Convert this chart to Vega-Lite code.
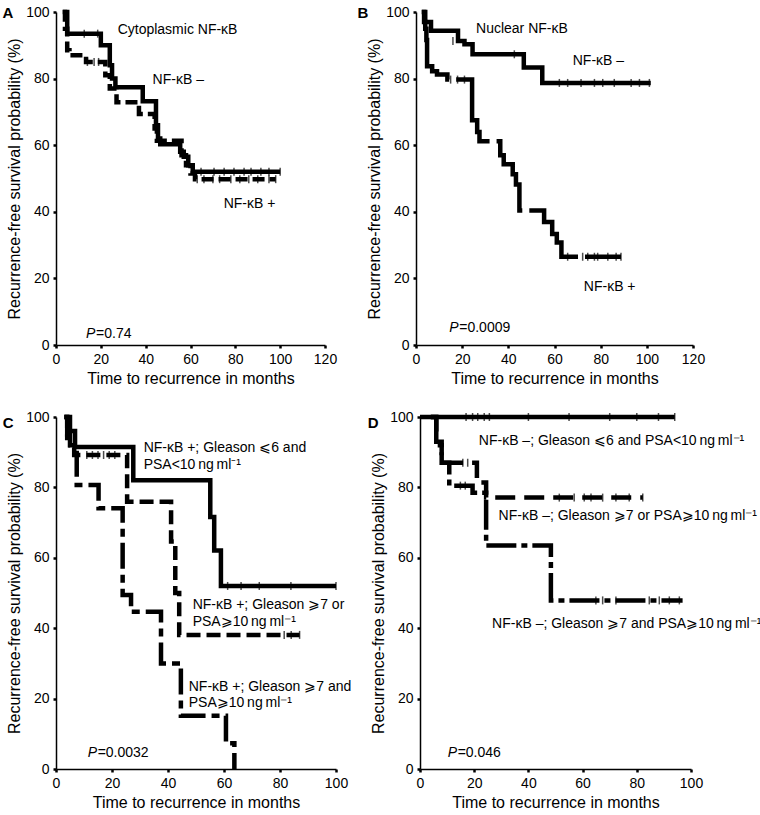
{
  "$schema": "https://vega.github.io/schema/vega-lite/v6.json",
  "padding": {"left": 2, "top": 3, "right": 0, "bottom": 0},
  "background": "white",
  "datasets": {
    "km": [
      {"p":"A","g":"neg","t":3,"s":100},{"p":"A","g":"neg","t":5,"s":93.5},{"p":"A","g":"neg","t":20,"s":90},{"p":"A","g":"neg","t":24,"s":84},{"p":"A","g":"neg","t":25,"s":80},{"p":"A","g":"neg","t":26.5,"s":77.4},{"p":"A","g":"neg","t":38.7,"s":73.2},{"p":"A","g":"neg","t":44.6,"s":66},{"p":"A","g":"neg","t":45.5,"s":62},{"p":"A","g":"neg","t":46.5,"s":60.3},{"p":"A","g":"neg","t":55.4,"s":58},{"p":"A","g":"neg","t":57,"s":56.5},{"p":"A","g":"neg","t":59,"s":54},{"p":"A","g":"neg","t":61,"s":52},{"p":"A","g":"neg","t":100,"s":52},
      {"p":"A","g":"pos","t":3,"s":100},{"p":"A","g":"pos","t":4,"s":95},{"p":"A","g":"pos","t":5,"s":88.5},{"p":"A","g":"pos","t":6,"s":87},{"p":"A","g":"pos","t":13.4,"s":85},{"p":"A","g":"pos","t":22,"s":81},{"p":"A","g":"pos","t":24,"s":77},{"p":"A","g":"pos","t":27,"s":72.9},{"p":"A","g":"pos","t":37,"s":69.4},{"p":"A","g":"pos","t":44,"s":65},{"p":"A","g":"pos","t":45,"s":61.3},{"p":"A","g":"pos","t":56,"s":57},{"p":"A","g":"pos","t":58,"s":54},{"p":"A","g":"pos","t":60,"s":51.5},{"p":"A","g":"pos","t":62,"s":49.8},{"p":"A","g":"pos","t":98,"s":49.8},
      {"p":"B","g":"neg","t":2.5,"s":100},{"p":"B","g":"neg","t":4,"s":97},{"p":"B","g":"neg","t":6.5,"s":94.4},{"p":"B","g":"neg","t":18.2,"s":91.3},{"p":"B","g":"neg","t":21,"s":90.3},{"p":"B","g":"neg","t":24.5,"s":87.3},{"p":"B","g":"neg","t":46.7,"s":83.3},{"p":"B","g":"neg","t":54.7,"s":78.7},{"p":"B","g":"neg","t":101.7,"s":78.7},
      {"p":"B","g":"pos","t":2.5,"s":100},{"p":"B","g":"pos","t":3.5,"s":97},{"p":"B","g":"pos","t":4,"s":95},{"p":"B","g":"pos","t":4.5,"s":91.6},{"p":"B","g":"pos","t":4.8,"s":83.7},{"p":"B","g":"pos","t":7,"s":82.2},{"p":"B","g":"pos","t":9.1,"s":81.2},{"p":"B","g":"pos","t":13.6,"s":79.7},{"p":"B","g":"pos","t":24.3,"s":67.5},{"p":"B","g":"pos","t":26.5,"s":64},{"p":"B","g":"pos","t":27.5,"s":61.2},{"p":"B","g":"pos","t":36.5,"s":57},{"p":"B","g":"pos","t":38,"s":54.3},{"p":"B","g":"pos","t":41.9,"s":51.3},{"p":"B","g":"pos","t":43.3,"s":48.2},{"p":"B","g":"pos","t":44.8,"s":40.4},{"p":"B","g":"pos","t":55.5,"s":36.9},{"p":"B","g":"pos","t":59,"s":33.3},{"p":"B","g":"pos","t":61,"s":30.8},{"p":"B","g":"pos","t":63,"s":26.5},{"p":"B","g":"pos","t":88.8,"s":26.5},
      {"p":"C","g":"c1","t":3,"s":100},{"p":"C","g":"c1","t":5,"s":96},{"p":"C","g":"c1","t":6.8,"s":91.5},{"p":"C","g":"c1","t":27.6,"s":82},{"p":"C","g":"c1","t":55.1,"s":71.6},{"p":"C","g":"c1","t":56.5,"s":62.1},{"p":"C","g":"c1","t":58.9,"s":52},{"p":"C","g":"c1","t":100,"s":52},
      {"p":"C","g":"c2","t":3,"s":100},{"p":"C","g":"c2","t":4,"s":95},{"p":"C","g":"c2","t":5,"s":92},{"p":"C","g":"c2","t":6.5,"s":89.2},{"p":"C","g":"c2","t":25.4,"s":75.9},{"p":"C","g":"c2","t":41.1,"s":64.6},{"p":"C","g":"c2","t":42.6,"s":50},{"p":"C","g":"c2","t":44,"s":38.1},{"p":"C","g":"c2","t":87,"s":38.1},
      {"p":"C","g":"c3","t":3,"s":100},{"p":"C","g":"c3","t":4,"s":92},{"p":"C","g":"c3","t":7.4,"s":80.7},{"p":"C","g":"c3","t":15.2,"s":74.1},{"p":"C","g":"c3","t":23.8,"s":49.4},{"p":"C","g":"c3","t":26.8,"s":44.7},{"p":"C","g":"c3","t":37.5,"s":30},{"p":"C","g":"c3","t":44.6,"s":15.1},{"p":"C","g":"c3","t":60.7,"s":7.3},{"p":"C","g":"c3","t":63.7,"s":0},
      {"p":"D","g":"c1","t":0,"s":100},{"p":"D","g":"c1","t":94,"s":100},
      {"p":"D","g":"c2","t":4,"s":100},{"p":"D","g":"c2","t":6,"s":93},{"p":"D","g":"c2","t":8,"s":87},{"p":"D","g":"c2","t":21,"s":81.4},{"p":"D","g":"c2","t":24.4,"s":77.1},{"p":"D","g":"c2","t":82.2,"s":77.1},
      {"p":"D","g":"c3","t":4,"s":100},{"p":"D","g":"c3","t":6,"s":92},{"p":"D","g":"c3","t":8,"s":87},{"p":"D","g":"c3","t":10.8,"s":80.5},{"p":"D","g":"c3","t":19.4,"s":78.5},{"p":"D","g":"c3","t":24.4,"s":63.5},{"p":"D","g":"c3","t":48.3,"s":47.9},{"p":"D","g":"c3","t":96.9,"s":47.9}
    ],
    "cens": [
      {"p":"A","t":12.6,"s":93.5},{"p":"A","t":18.6,"s":93.5},{"p":"A","t":64.7,"s":52},{"p":"A","t":70.5,"s":52},{"p":"A","t":75,"s":52},{"p":"A","t":79.4,"s":52},{"p":"A","t":83.9,"s":52},{"p":"A","t":87,"s":52},{"p":"A","t":91.4,"s":52},{"p":"A","t":95,"s":52},{"p":"A","t":100,"s":52},
      {"p":"A","t":14,"s":85},{"p":"A","t":17,"s":85},{"p":"A","t":19,"s":85},{"p":"A","t":63,"s":49.8},{"p":"A","t":66,"s":49.8},{"p":"A","t":70,"s":49.8},{"p":"A","t":73,"s":49.8},{"p":"A","t":78,"s":49.8},{"p":"A","t":82,"s":49.8},{"p":"A","t":86,"s":49.8},{"p":"A","t":90,"s":49.8},{"p":"A","t":95,"s":49.8},{"p":"A","t":98,"s":49.8},
      {"p":"B","t":16,"s":91.3},{"p":"B","t":42.6,"s":87.3},{"p":"B","t":62.1,"s":78.7},{"p":"B","t":65.7,"s":78.7},{"p":"B","t":71.5,"s":78.7},{"p":"B","t":77.3,"s":78.7},{"p":"B","t":80.9,"s":78.7},{"p":"B","t":85.9,"s":78.7},{"p":"B","t":93.2,"s":78.7},{"p":"B","t":96.8,"s":78.7},{"p":"B","t":101.1,"s":78.7},
      {"p":"B","t":15,"s":79.7},{"p":"B","t":18,"s":79.7},{"p":"B","t":21,"s":79.7},{"p":"B","t":65.7,"s":26.5},{"p":"B","t":72.2,"s":26.5},{"p":"B","t":74.4,"s":26.5},{"p":"B","t":77.3,"s":26.5},{"p":"B","t":78.7,"s":26.5},{"p":"B","t":83.1,"s":26.5},{"p":"B","t":86.7,"s":26.5},{"p":"B","t":88.8,"s":26.5},
      {"p":"C","t":61.3,"s":52},{"p":"C","t":66.1,"s":52},{"p":"C","t":72.6,"s":52},{"p":"C","t":83.9,"s":52},{"p":"C","t":100,"s":52},
      {"p":"C","t":11,"s":89.2},{"p":"C","t":13,"s":89.2},{"p":"C","t":15,"s":89.2},{"p":"C","t":17,"s":89.2},{"p":"C","t":19,"s":89.2},{"p":"C","t":21,"s":89.2},{"p":"C","t":81.5,"s":38.1},{"p":"C","t":84,"s":38.1},{"p":"C","t":87,"s":38.1},
      {"p":"D","t":17,"s":100},{"p":"D","t":19.4,"s":100},{"p":"D","t":21.3,"s":100},{"p":"D","t":23.7,"s":100},{"p":"D","t":25.6,"s":100},{"p":"D","t":40,"s":100},{"p":"D","t":55,"s":100},{"p":"D","t":70,"s":100},{"p":"D","t":80,"s":100},{"p":"D","t":88,"s":100},{"p":"D","t":94,"s":100},
      {"p":"D","t":15.8,"s":87},{"p":"D","t":17.6,"s":87},{"p":"D","t":51.4,"s":77.1},{"p":"D","t":56.9,"s":77.1},{"p":"D","t":60.6,"s":77.1},{"p":"D","t":63.1,"s":77.1},{"p":"D","t":67.4,"s":77.1},{"p":"D","t":72.3,"s":77.1},{"p":"D","t":77.2,"s":77.1},{"p":"D","t":82.2,"s":77.1},
      {"p":"D","t":14.9,"s":80.5},{"p":"D","t":16.7,"s":80.5},{"p":"D","t":64.9,"s":47.9},{"p":"D","t":67.4,"s":47.9},{"p":"D","t":72.3,"s":47.9},{"p":"D","t":84.6,"s":47.9},{"p":"D","t":88.3,"s":47.9},{"p":"D","t":92,"s":47.9},{"p":"D","t":95.7,"s":47.9}
    ]
  },
  "spacing": 22,
  "vconcat": [
    {
      "spacing": 20,
      "hconcat": [
        {
          "width": 269, "height": 333,
          "layer": [
            {"data": {"name": "km"}, "transform": [{"filter": "datum.p === 'A' && datum.g === 'neg'"}],
             "mark": {"type": "line", "interpolate": "step-after", "strokeWidth": 4.5, "color": "black"},
             "encoding": {
               "x": {"field": "t", "type": "quantitative", "scale": {"domain": [0, 120], "nice": false}, "axis": {"values": [0,20,40,60,80,100,120], "title": "Time to recurrence in months"}},
               "y": {"field": "s", "type": "quantitative", "scale": {"domain": [0, 100], "nice": false}, "axis": {"values": [0,20,40,60,80,100], "title": "Recurrence-free survival probability (%)"}}
             }},
            {"data": {"name": "km"}, "transform": [{"filter": "datum.p === 'A' && datum.g === 'pos'"}],
             "mark": {"type": "line", "interpolate": "step-after", "strokeWidth": 4.5, "color": "black", "strokeDash": [12, 5]},
             "encoding": {"x": {"field": "t", "type": "quantitative"}, "y": {"field": "s", "type": "quantitative"}}},
            {"data": {"name": "cens"}, "transform": [{"filter": "datum.p === 'A'"}],
             "mark": {"type": "tick", "orient": "vertical", "size": 8, "thickness": 1.5, "color": "black"},
             "encoding": {"x": {"field": "t", "type": "quantitative"}, "y": {"field": "s", "type": "quantitative"}}},
            {"data": {"values": [{}]}, "mark": {"type": "text", "fontWeight": "bold", "fontSize": 15, "align": "center"}, "encoding": {"x": {"datum": -21.4}, "y": {"datum": 99.7}, "text": {"value": "A"}}},
            {"data": {"values": [{}]}, "mark": "text", "encoding": {"x": {"datum": 27.5}, "y": {"datum": 94.6}, "text": {"value": "Cytoplasmic NF-κB"}}},
            {"data": {"values": [{}]}, "mark": "text", "encoding": {"x": {"datum": 43.1}, "y": {"datum": 79.5}, "text": {"value": "NF-κB –"}}},
            {"data": {"values": [{}]}, "mark": "text", "encoding": {"x": {"datum": 74.8}, "y": {"datum": 42.2}, "text": {"value": "NF-κB +"}}},
            {"data": {"values": [{}]}, "mark": {"type": "text", "fontStyle": "italic"}, "encoding": {"x": {"datum": 13.4}, "y": {"datum": 3.4}, "text": {"value": "P"}}},
            {"data": {"values": [{}]}, "mark": {"type": "text", "dx": 10}, "encoding": {"x": {"datum": 13.4}, "y": {"datum": 3.4}, "text": {"value": "=0.74"}}}
          ]
        },
        {
          "width": 277, "height": 333,
          "layer": [
            {"data": {"name": "km"}, "transform": [{"filter": "datum.p === 'B' && datum.g === 'neg'"}],
             "mark": {"type": "line", "interpolate": "step-after", "strokeWidth": 4.5, "color": "black"},
             "encoding": {
               "x": {"field": "t", "type": "quantitative", "scale": {"domain": [0, 120], "nice": false}, "axis": {"values": [0,20,40,60,80,100,120], "title": "Time to recurrence in months"}},
               "y": {"field": "s", "type": "quantitative", "scale": {"domain": [0, 100], "nice": false}, "axis": {"values": [0,20,40,60,80,100], "title": "Recurrence-free survival probability (%)"}}
             }},
            {"data": {"name": "km"}, "transform": [{"filter": "datum.p === 'B' && datum.g === 'pos'"}],
             "mark": {"type": "line", "interpolate": "step-after", "strokeWidth": 4.5, "color": "black", "strokeDash": [95, 7]},
             "encoding": {"x": {"field": "t", "type": "quantitative"}, "y": {"field": "s", "type": "quantitative"}}},
            {"data": {"name": "cens"}, "transform": [{"filter": "datum.p === 'B'"}],
             "mark": {"type": "tick", "orient": "vertical", "size": 8, "thickness": 1.5, "color": "black"},
             "encoding": {"x": {"field": "t", "type": "quantitative"}, "y": {"field": "s", "type": "quantitative"}}},
            {"data": {"values": [{}]}, "mark": {"type": "text", "fontWeight": "bold", "fontSize": 15, "align": "center"}, "encoding": {"x": {"datum": -23}, "y": {"datum": 99.7}, "text": {"value": "B"}}},
            {"data": {"values": [{}]}, "mark": "text", "encoding": {"x": {"datum": 26}, "y": {"datum": 94.9}, "text": {"value": "Nuclear NF-κB"}}},
            {"data": {"values": [{}]}, "mark": "text", "encoding": {"x": {"datum": 67.9}, "y": {"datum": 85.3}, "text": {"value": "NF-κB –"}}},
            {"data": {"values": [{}]}, "mark": "text", "encoding": {"x": {"datum": 72.7}, "y": {"datum": 17.3}, "text": {"value": "NF-κB +"}}},
            {"data": {"values": [{}]}, "mark": {"type": "text", "fontStyle": "italic"}, "encoding": {"x": {"datum": 14.4}, "y": {"datum": 5.1}, "text": {"value": "P"}}},
            {"data": {"values": [{}]}, "mark": {"type": "text", "dx": 10}, "encoding": {"x": {"datum": 14.4}, "y": {"datum": 5.1}, "text": {"value": "=0.0009"}}}
          ]
        }
      ]
    },
    {
      "spacing": 15,
      "hconcat": [
        {
          "width": 280, "height": 352,
          "layer": [
            {"data": {"name": "km"}, "transform": [{"filter": "datum.p === 'C' && datum.g === 'c1'"}],
             "mark": {"type": "line", "interpolate": "step-after", "strokeWidth": 4.5, "color": "black"},
             "encoding": {
               "x": {"field": "t", "type": "quantitative", "scale": {"domain": [0, 100], "nice": false}, "axis": {"values": [0,20,40,60,80,100], "title": "Time to recurrence in months"}},
               "y": {"field": "s", "type": "quantitative", "scale": {"domain": [0, 100], "nice": false}, "axis": {"values": [0,20,40,60,80,100], "title": "Recurrence-free survival probability (%)"}}
             }},
            {"data": {"name": "km"}, "transform": [{"filter": "datum.p === 'C' && datum.g === 'c2'"}],
             "mark": {"type": "line", "interpolate": "step-after", "strokeWidth": 4.5, "color": "black", "strokeDash": [14, 6]},
             "encoding": {"x": {"field": "t", "type": "quantitative"}, "y": {"field": "s", "type": "quantitative"}}},
            {"data": {"name": "km"}, "transform": [{"filter": "datum.p === 'C' && datum.g === 'c3'"}],
             "mark": {"type": "line", "interpolate": "step-after", "strokeWidth": 4.5, "color": "black", "strokeDash": [26, 6, 8, 6]},
             "encoding": {"x": {"field": "t", "type": "quantitative"}, "y": {"field": "s", "type": "quantitative"}}},
            {"data": {"name": "cens"}, "transform": [{"filter": "datum.p === 'C'"}],
             "mark": {"type": "tick", "orient": "vertical", "size": 8, "thickness": 1.5, "color": "black"},
             "encoding": {"x": {"field": "t", "type": "quantitative"}, "y": {"field": "s", "type": "quantitative"}}},
            {"data": {"values": [{}]}, "mark": {"type": "text", "fontWeight": "bold", "fontSize": 15, "align": "center"}, "encoding": {"x": {"datum": -17.1}, "y": {"datum": 98.3}, "text": {"value": "C"}}},
            {"data": {"values": [{}]}, "mark": "text", "encoding": {"x": {"datum": 31.3}, "y": {"datum": 91.1}, "text": {"value": "NF-κB +; Gleason \u2a7d6 and"}}},
            {"data": {"values": [{}]}, "mark": "text", "encoding": {"x": {"datum": 31.3}, "y": {"datum": 86.4}, "text": {"value": "PSA<10\u2009ng\u2009ml\u207b\u00b9"}}},
            {"data": {"values": [{}]}, "mark": "text", "encoding": {"x": {"datum": 48.8}, "y": {"datum": 46.6}, "text": {"value": "NF-κB +; Gleason \u2a7e7 or"}}},
            {"data": {"values": [{}]}, "mark": "text", "encoding": {"x": {"datum": 48.8}, "y": {"datum": 41.8}, "text": {"value": "PSA\u2a7e10\u2009ng\u2009ml\u207b\u00b9"}}},
            {"data": {"values": [{}]}, "mark": "text", "encoding": {"x": {"datum": 47.4}, "y": {"datum": 23.4}, "text": {"value": "NF-κB +; Gleason \u2a7e7 and"}}},
            {"data": {"values": [{}]}, "mark": "text", "encoding": {"x": {"datum": 47.4}, "y": {"datum": 18.8}, "text": {"value": "PSA\u2a7e10\u2009ng\u2009ml\u207b\u00b9"}}},
            {"data": {"values": [{}]}, "mark": {"type": "text", "fontStyle": "italic"}, "encoding": {"x": {"datum": 11.3}, "y": {"datum": 4.5}, "text": {"value": "P"}}},
            {"data": {"values": [{}]}, "mark": {"type": "text", "dx": 10}, "encoding": {"x": {"datum": 11.3}, "y": {"datum": 4.5}, "text": {"value": "=0.0032"}}}
          ]
        },
        {
          "width": 271, "height": 352,
          "layer": [
            {"data": {"name": "km"}, "transform": [{"filter": "datum.p === 'D' && datum.g === 'c1'"}],
             "mark": {"type": "line", "interpolate": "step-after", "strokeWidth": 4.5, "color": "black"},
             "encoding": {
               "x": {"field": "t", "type": "quantitative", "scale": {"domain": [0, 100], "nice": false}, "axis": {"values": [0,20,40,60,80,100], "title": "Time to recurrence in months"}},
               "y": {"field": "s", "type": "quantitative", "scale": {"domain": [0, 100], "nice": false}, "axis": {"values": [0,20,40,60,80,100], "title": "Recurrence-free survival probability (%)"}}
             }},
            {"data": {"name": "km"}, "transform": [{"filter": "datum.p === 'D' && datum.g === 'c2'"}],
             "mark": {"type": "line", "interpolate": "step-after", "strokeWidth": 4.5, "color": "black", "strokeDash": [20, 9]},
             "encoding": {"x": {"field": "t", "type": "quantitative"}, "y": {"field": "s", "type": "quantitative"}}},
            {"data": {"name": "km"}, "transform": [{"filter": "datum.p === 'D' && datum.g === 'c3'"}],
             "mark": {"type": "line", "interpolate": "step-after", "strokeWidth": 4.5, "color": "black", "strokeDash": [30, 5, 6, 5]},
             "encoding": {"x": {"field": "t", "type": "quantitative"}, "y": {"field": "s", "type": "quantitative"}}},
            {"data": {"name": "cens"}, "transform": [{"filter": "datum.p === 'D'"}],
             "mark": {"type": "tick", "orient": "vertical", "size": 8, "thickness": 1.5, "color": "black"},
             "encoding": {"x": {"field": "t", "type": "quantitative"}, "y": {"field": "s", "type": "quantitative"}}},
            {"data": {"values": [{}]}, "mark": {"type": "text", "fontWeight": "bold", "fontSize": 15, "align": "center"}, "encoding": {"x": {"datum": -17.3}, "y": {"datum": 98.3}, "text": {"value": "D"}}},
            {"data": {"values": [{}]}, "mark": "text", "encoding": {"x": {"datum": 21.7}, "y": {"datum": 93.2}, "text": {"value": "NF-κB –; Gleason \u2a7d6 and PSA<10\u2009ng\u2009ml\u207b\u00b9"}}},
            {"data": {"values": [{}]}, "mark": "text", "encoding": {"x": {"datum": 29}, "y": {"datum": 72}, "text": {"value": "NF-κB –; Gleason \u2a7e7 or PSA\u2a7e10\u2009ng\u2009ml\u207b\u00b9"}}},
            {"data": {"values": [{}]}, "mark": "text", "encoding": {"x": {"datum": 26.6}, "y": {"datum": 41.3}, "text": {"value": "NF-κB –; Gleason \u2a7e7 and PSA\u2a7e10\u2009ng\u2009ml\u207b\u00b9"}}},
            {"data": {"values": [{}]}, "mark": {"type": "text", "fontStyle": "italic"}, "encoding": {"x": {"datum": 10.2}, "y": {"datum": 4.5}, "text": {"value": "P"}}},
            {"data": {"values": [{}]}, "mark": {"type": "text", "dx": 10}, "encoding": {"x": {"datum": 10.2}, "y": {"datum": 4.5}, "text": {"value": "=0.046"}}}
          ]
        }
      ]
    }
  ],
  "config": {
    "view": {"stroke": null},
    "font": "Liberation Sans",
    "axis": {"grid": false, "domainColor": "black", "domainWidth": 1.5, "tickColor": "black", "tickWidth": 2.5, "tickSize": 3, "labelColor": "black", "labelFontSize": 14, "labelFont": "Liberation Sans", "labelPadding": 4, "labelFlush": false, "labelOverlap": false, "titleFont": "Liberation Sans", "titleFontSize": 16, "titleFontWeight": "normal", "titleColor": "black"},
    "axisX": {"titlePadding": 4},
    "axisY": {"titlePadding": 3},
    "text": {"font": "Liberation Sans", "fontSize": 14, "align": "left", "baseline": "middle", "color": "black"}
  }
}
